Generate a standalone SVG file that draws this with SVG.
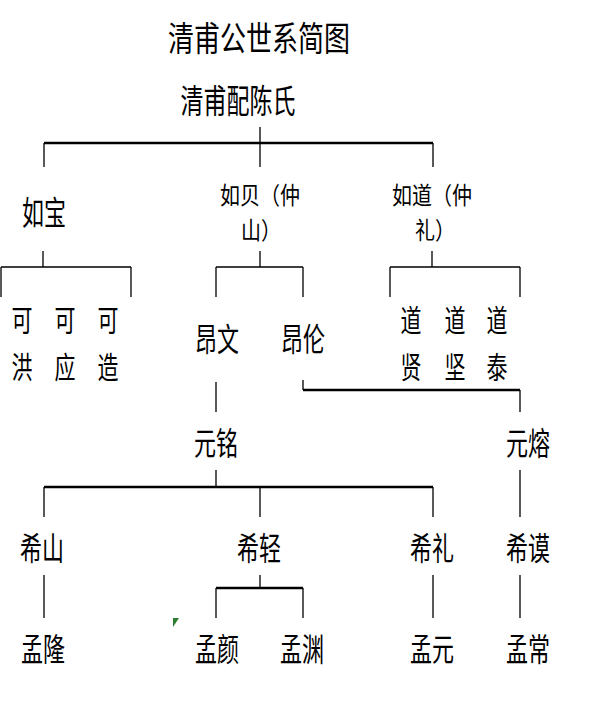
<svg xmlns="http://www.w3.org/2000/svg" width="598" height="712" viewBox="0 0 598 712">
<style>
text{font-family:"Noto Sans CJK SC","Noto Sans CJK JP",sans-serif;fill:#000;text-anchor:middle}
.t{font-size:26px}
.n{font-size:22px}
.s{font-size:20px;text-anchor:start}
.c{stroke:#000;fill:none}
.th{stroke-width:1.3}
.tk{stroke-width:2.6}
</style>
<rect width="598" height="712" fill="#fff"/>
<g id="connectors">
<path class="c th" d="M260 127V167M44 143V167M433 143V167"/>
<path class="c tk" d="M44 143H433"/>
<path class="c th" d="M43 251V267M1 267H131M1 267V297M131 267V297"/>
<path class="c th" d="M260 251V267M216 267H303M216 267V297M303 267V297"/>
<path class="c th" d="M432 251V267M390 267H520M390 267V297M520 267V297"/>
<path class="c th" d="M216 382V412M303 380V390M520 390V412"/>
<path class="c tk" d="M303 390H520"/>
<path class="c th" d="M216 470V487M44 487V517M260 487V517M433 487V517M520 470V517"/>
<path class="c tk" d="M44 487H433"/>
<path class="c th" d="M44 575V618M260 575V588M216 588V618M303 588V618M433 575V618M520 575V618"/>
<path class="c tk" d="M216 588H303"/>
</g>
<g id="title"><text class="t" transform="translate(259 51) scale(1 1.3)">清甫公世系简图</text></g>
<g id="root"><text class="n" style="font-size:23px" transform="translate(238 113) scale(1 1.45)">清甫配陈氏</text></g>
<g id="rubao"><text class="n" transform="translate(44 225) scale(1 1.5)">如宝</text></g>
<g id="rubei"><text class="s" transform="translate(220 204) scale(1 1.2)"><tspan x="0" y="0">如贝（仲</tspan><tspan x="21" y="29.3">山）</tspan></text></g>
<g id="rudao"><text class="s" transform="translate(392 204) scale(1 1.2)"><tspan x="0" y="0">如道（仲</tspan><tspan x="23" y="29.3">礼）</tspan></text></g>
<g id="kehong"><text class="n" style="font-size:21px" transform="translate(22 331) scale(1 1.4)">可</text><text class="n" style="font-size:21px" transform="translate(22 378) scale(1 1.4)">洪</text></g>
<g id="keying"><text class="n" style="font-size:21px" transform="translate(65 331) scale(1 1.4)">可</text><text class="n" style="font-size:21px" transform="translate(65 378) scale(1 1.4)">应</text></g>
<g id="kezao"><text class="n" style="font-size:21px" transform="translate(108 331) scale(1 1.4)">可</text><text class="n" style="font-size:21px" transform="translate(108 378) scale(1 1.4)">造</text></g>
<g id="angwen"><text class="n" transform="translate(217 351) scale(1 1.45)">昂文</text></g>
<g id="anglun"><text class="n" transform="translate(303 351) scale(1 1.45)">昂伦</text></g>
<g id="daoxian"><text class="n" style="font-size:21px" transform="translate(411 331) scale(1 1.4)">道</text><text class="n" style="font-size:21px" transform="translate(411 378) scale(1 1.4)">贤</text></g>
<g id="daojian"><text class="n" style="font-size:21px" transform="translate(455 331) scale(1 1.4)">道</text><text class="n" style="font-size:21px" transform="translate(455 378) scale(1 1.4)">坚</text></g>
<g id="daotai"><text class="n" style="font-size:21px" transform="translate(497 331) scale(1 1.4)">道</text><text class="n" style="font-size:21px" transform="translate(497 378) scale(1 1.4)">泰</text></g>
<g id="yuanming"><text class="n" transform="translate(216 455) scale(1 1.45)">元铭</text></g>
<g id="yuanrong"><text class="n" transform="translate(528 455) scale(1 1.45)">元熔</text></g>
<g id="xishan"><text class="n" transform="translate(42 560) scale(1 1.45)">希山</text></g>
<g id="xiqing"><text class="n" transform="translate(259 560) scale(1 1.45)">希轻</text></g>
<g id="xili"><text class="n" transform="translate(432 560) scale(1 1.45)">希礼</text></g>
<g id="ximo"><text class="n" transform="translate(528 560) scale(1 1.45)">希谟</text></g>
<g id="menglong"><text class="n" transform="translate(43 661) scale(1 1.45)">孟隆</text></g>
<g id="mengyan"><text class="n" transform="translate(217 661) scale(1 1.45)">孟颜</text></g>
<g id="mengyuan"><text class="n" transform="translate(302 661) scale(1 1.45)">孟渊</text></g>
<g id="mengyuan2"><text class="n" transform="translate(432 661) scale(1 1.45)">孟元</text></g>
<g id="mengchang"><text class="n" transform="translate(528 661) scale(1 1.45)">孟常</text></g>
<polygon points="173,618 179,618 173,627" fill="#2e7d32"/>
</svg>
